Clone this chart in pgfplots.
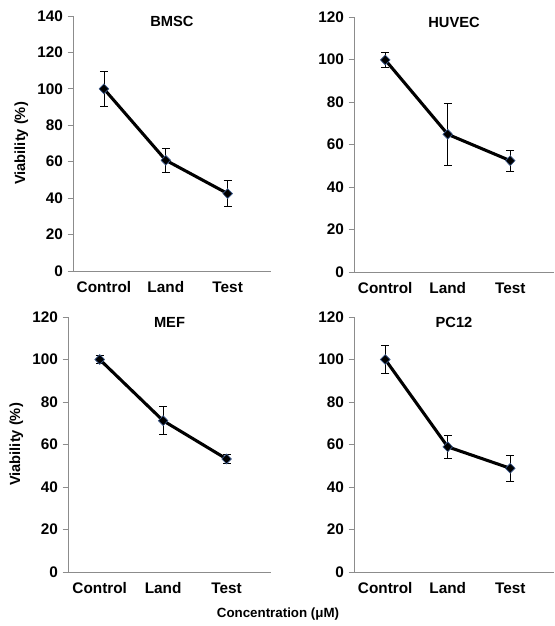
\documentclass[border=0pt]{standalone}
\usepackage{fontspec}
\setmainfont{Liberation Sans}
\usepackage{pgfplots}
\pgfplotsset{compat=1.18}
\usepackage{pgfplotstable}

% viability: mean and error bar half-width
\pgfplotstableread{
x y e
0 100.0 9.5
1 60.8 6.7
2 42.5 7.3
}\bmsc
\pgfplotstableread{
x y e
0 99.8 3.4
1 64.8 14.6
2 52.4 5.0
}\huvec
\pgfplotstableread{
x y e
0 100.0 2.0
1 71.2 6.6
2 53.2 2.3
}\mef
\pgfplotstableread{
x y e
0 100.0 6.5
1 58.9 5.6
2 48.8 6.3
}\pcXII

\definecolor{axisgray}{HTML}{8C8C8C}
\definecolor{mkedge}{HTML}{3C5A8C}

\pgfplotsset{
  cell/.style={
    scale only axis, width=150pt, height=191.25pt,
    xmin=-0.5, xmax=2.7, ymin=0,
    axis lines=left,
    axis line style={-, draw=axisgray, line width=0.6pt},
    xtick={0,1,2}, xticklabels={Control,Land,Test},
    x tick style={draw=none},
    y tick style={draw=axisgray, line width=0.6pt},
    tick align=outside, major tick length=4pt,
    ytick distance=20,
    /pgf/number format/assume math mode=true,
    tick label style={font=\bfseries\fontsize{11.5}{13}\selectfont},
    xticklabel style={yshift=-1pt, text height=0.75em, text depth=0.2em},
    title style={at={(0.5,1)}, anchor=center, yshift=-10pt,
      font=\bfseries\fontsize{11}{13}\selectfont},
    label style={font=\bfseries\fontsize{11}{13}\selectfont},
  },
  curve/.style={
    black, line width=2.3pt, mark=diamond*, mark size=3.7pt,
    mark options={solid, fill=black, draw=mkedge, line width=0.5pt, xscale=1.3},
    error bars/.cd, y dir=both, y explicit,
    error bar style={line width=0.6pt, black},
    error mark options={rotate=90, mark size=3pt, line width=0.6pt, black},
  },
}

\begin{document}
\begin{tikzpicture}
  \path[use as bounding box] (0,0) rectangle (416.25pt,-469.5pt);

  \begin{axis}[cell, at={(54.75pt,-203.25pt)}, anchor=south west,
      width=148.5pt, ymax=140, title={BMSC}, ylabel={Viability (\%)}]
    \addplot[curve] table[x=x, y=y, y error=e] {\bmsc};
  \end{axis}

  \begin{axis}[cell, at={(265.5pt,-204pt)}, anchor=south west,
      ymax=120, title={HUVEC}]
    \addplot[curve] table[x=x, y=y, y error=e] {\huvec};
  \end{axis}

  \begin{axis}[cell, at={(51pt,-429pt)}, anchor=south west,
      width=152.25pt, ymax=120, title={MEF}, ylabel={Viability (\%)}]
    \addplot[curve] table[x=x, y=y, y error=e] {\mef};
  \end{axis}

  \begin{axis}[cell, at={(265.5pt,-429pt)}, anchor=south west,
      ymax=120, title={PC12}]
    \addplot[curve] table[x=x, y=y, y error=e] {\pcXII};
  \end{axis}

  \node[font=\bfseries\fontsize{10}{12}\selectfont] at (208.5pt,-460.5pt)
    {Concentration (μM)};
\end{tikzpicture}
\end{document}
